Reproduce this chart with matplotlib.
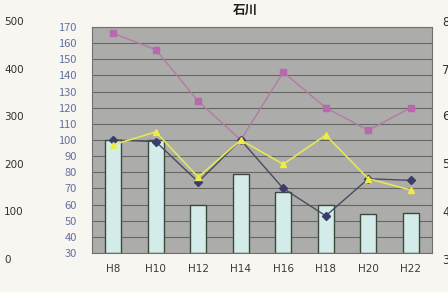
import matplotlib.pyplot as plt

plt.rcParams['font.family'] = ['Noto Sans CJK JP', 'DejaVu Sans']

# data
years = ['H8', 'H10', 'H12', 'H14', 'H16', 'H18', 'H20', 'H22']
bars = [100, 100, 60, 79, 68, 60, 54, 55]
pink = [166, 156, 124, 100, 142, 120, 106, 120]
navy = [100, 99, 74, 100, 70, 53, 76, 75]
yellow = [97, 105, 77, 100, 85, 103, 76, 69]
left_ticks = list(range(30, 171, 10))
outer_left = ['500', '400', '300', '200', '100', '0']
outer_right = ['8', '7', '6', '5', '4', '3']

fig = plt.figure(figsize=(4.48, 2.92), dpi=100)
fig.patch.set_facecolor('#f7f6f1')
ax = fig.add_axes([92/448, 1-253/292, 340/448, 226/292])
ax.set_facecolor('#acacaa')

x = list(range(len(years)))
ax.set_axisbelow(True)
ax.yaxis.grid(True, color='#666763', linewidth=0.8)
ax.bar(x, [b - 30 for b in bars], bottom=30, width=0.37,
       color='#d3ecea', edgecolor='#3c4a3c', linewidth=1.0, zorder=2)

ax.plot(x, pink, color='#b37aa8', linewidth=1.0, marker='s', markersize=5,
        markerfacecolor='#b968ad', markeredgecolor='#b968ad', zorder=3)
ax.plot(x, navy, color='#4a4a60', linewidth=1.0, marker='D', markersize=4,
        markerfacecolor='#3c3c6c', markeredgecolor='#3c3c6c', zorder=3)
ax.plot(x, yellow, color='#e6e65a', linewidth=1.2, marker='^', markersize=5,
        markerfacecolor='#eeee40', markeredgecolor='#eeee40', zorder=4)

ax.set_xlim(-0.5, 7.5)
ax.set_ylim(30, 170)
ax.set_yticks(left_ticks)
ax.set_xticks(x)
ax.set_xticklabels(years, fontsize=7.5, color='#3a3a3a', family='DejaVu Sans')
ax.tick_params(axis='y', labelsize=8, labelcolor='#6270a0', length=0, pad=11)
ax.tick_params(axis='x', length=0, pad=8)
for s in ax.spines.values():
    s.set_color('#707070')
    s.set_linewidth(0.8)

fig.text(245/448, 1-10/292, '石川', ha='center', va='center', fontsize=9,
         fontweight='bold', color='#202020')

ys = [22, 70, 117, 165, 212, 260]
for lab, yy in zip(outer_left, ys):
    fig.text(4/448, 1-yy/292, lab, ha='left', va='center', fontsize=7.5,
             color='#303030', family='DejaVu Sans')
for lab, yy in zip(outer_right, ys):
    fig.text(442/448, 1-yy/292, lab, ha='left', va='center', fontsize=8.5,
             color='#303030', family='DejaVu Sans')

fig.savefig('out.png', dpi=100, facecolor=fig.get_facecolor())
